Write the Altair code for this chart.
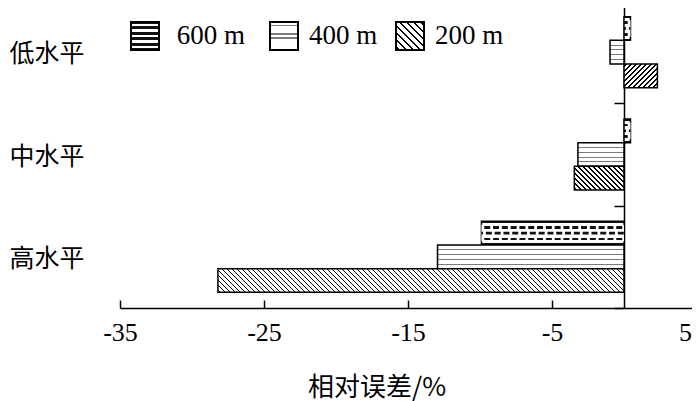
import json
import altair as alt

# ---------------- data ----------------
categories = ["低水平", "中水平", "高水平"]
series = ["600 m", "400 m", "200 m"]
values_600 = [0.45, 0.45, -9.9]
values_400 = [-0.97, -3.2, -12.95]
values_200 = [2.32, -3.45, -28.2]
x_ticks = [-35, -25, -15, -5, 5]
x_title = "相对误差/%"

# ---------------- layout / style ----------------
W, H = 576, 307
XMIN, XMAX = -35, 5
PX = W / (XMAX - XMIN)
ZERO_PX = (0 - XMIN) * PX
PAD_OUT = 0.66
BAND = H / len(categories)
BAR_H = BAND / (len(series) + 2 * PAD_OUT)
LEG = 28
WHITE = "#ffffff"
CJK = "Noto Sans CJK SC"
SERIF = "Liberation Serif"
NB = "\u00a0"
ZW = "\u200b"   # keeps edge spaces from being trimmed


def stops(intervals, on):
    out = [{"offset": 0, "color": WHITE}]
    for a, b in intervals:
        a = round(min(max(a, 0.0), 1.0), 5)
        b = round(min(max(b, 0.0), 1.0), 5)
        out += [{"offset": a, "color": WHITE}, {"offset": a, "color": on},
                {"offset": b, "color": on}, {"offset": b, "color": WHITE}]
    out.append({"offset": 1, "color": WHITE})
    return out


def hlines(h, spacing, lw, color):
    iv = []
    p = spacing
    while p < h - 0.5:
        iv.append(((p - lw / 2) / h, (p + lw / 2) / h))
        p += spacing
    return {"gradient": "linear", "x1": 0, "y1": 0, "x2": 0, "y2": 1, "stops": stops(iv, color)}


def rows_grad(h, centers, lw, color, edge):
    iv = [(0, edge / h)]
    for c in centers:
        iv.append((c - lw / 2 / h, c + lw / 2 / h))
    iv.append((1 - edge / h, 1))
    return {"gradient": "linear", "x1": 0, "y1": 0, "x2": 0, "y2": 1, "stops": stops(iv, color)}


def diag(w, h, up, period, lw, color="#000000"):
    w = max(w, 0.5)
    S = w + h
    alpha = (w + h) / (w * w + h * h)
    if up:   # "///"
        x1, y1, x2, y2 = 0, 0, alpha * w, alpha * h
    else:    # "\\\"
        x1, y1, x2, y2 = 0, 1, alpha * w, 1 - alpha * h
    half = lw * 0.7071
    iv = []
    k = 0
    while k * period < S:
        c = k * period + period / 2
        iv.append(((c - half) / S, (c + half) / S))
        k += 1
    return {"gradient": "linear", "x1": round(x1, 5), "y1": round(y1, 5),
            "x2": round(x2, 5), "y2": round(y2, 5), "stops": stops(iv, color)}


def bar_grad(s, v):
    if s == series[0]:
        return rows_grad(BAR_H, [0.25, 0.75], 2.6, "#111111", 1.8)
    if s == series[1]:
        return hlines(BAR_H, 4.8, 1.0, "#7a7a7a")
    return diag(abs(v) * PX, BAR_H, v >= 0, 5.0, 1.2)


legend_grads = {
    series[0]: rows_grad(LEG, [0.2, 0.4, 0.6, 0.8], 2.6, "#111111", 2.0),
    series[1]: hlines(LEG, 4.0, 1.0, "#7a7a7a"),
    series[2]: diag(LEG, LEG, False, 7.0, 1.2),
}
fill_expr = json.dumps(legend_grads[series[-1]])
for s in reversed(series[:-1]):
    fill_expr = f"datum.value === '{s}' ? {json.dumps(legend_grads[s])} : ({fill_expr})"

rows = []
for ci, c in enumerate(categories):
    for s, vals in zip(series, [values_600, values_400, values_200]):
        v = vals[ci]
        rows.append({"category": c, "series": s, "value": v, "grad": bar_grad(s, v)})


def build(use_cond_offset):
    base = alt.Chart(alt.Data(values=rows))
    x_axis_kw = dict(
        values=x_ticks, grid=False, labelFlush=False,
        domainColor="black", domainWidth=1.5,
        tickColor="black", tickWidth=1.5, tickSize={"expr": "-8"},
        labelFont=SERIF, labelFontSize=26,
        labelColor="black", labelPadding=19,
        titleFont=CJK, titleFontSize=26, titleFontWeight="normal", titleColor="black",
        titleX=256.5, titleY=79, titleAlign="center", titleBaseline="middle",
    )
    if use_cond_offset:
        x_axis_kw["labelExpr"] = "datum.value + ''"
        x_axis_kw["labelOffset"] = {"condition": {"test": f"datum.value === {XMAX}", "value": -11}, "value": 0}
    else:
        x_axis_kw["labelExpr"] = f"datum.value === {XMAX} ? datum.value + '{NB * 4}{ZW}' : datum.value + ''"

    x_enc = alt.X(
        "value:Q",
        scale=alt.Scale(domain=[XMIN, XMAX], nice=False),
        title=x_title,
        axis=alt.Axis(**x_axis_kw),
    )
    y_enc = alt.Y(
        "category:N",
        scale=alt.Scale(domain=categories, paddingInner=0, paddingOuter=0),
        title=None,
        axis=alt.Axis(
            orient="left", offset=-ZERO_PX, grid=False,
            domainColor="black", domainWidth=1.5,
            tickColor="black", tickWidth=1.5, tickSize=10, tickBand="extent",
            labelFont=CJK, labelFontSize=25, labelColor="black",
            labelPadding=530, labelOffset=1.5,
        ),
    )
    yoff_enc = alt.YOffset("series:N", scale=alt.Scale(domain=series, paddingInner=0, paddingOuter=PAD_OUT))

    bars = base.mark_bar(strokeWidth=1.5).encode(
        x=x_enc, y=y_enc, yOffset=yoff_enc,
        fill=alt.Fill("grad:N", scale=None),
        stroke=alt.Stroke(
            "series:N",
            scale=alt.Scale(domain=series, range=["#000000"] * len(series)),
            legend=alt.Legend(
                title=None, orient="none", legendX=10, legendY=20,
                direction="horizontal", columns=3,
                symbolType="square", symbolSize=LEG * LEG,
                symbolStrokeColor="black", symbolStrokeWidth=2,
                symbolFillColor={"expr": fill_expr},
                labelFont=SERIF, labelFontSize=27, labelColor="black",
                labelOffset=10, columnPadding=14, padding=0, labelLimit=0,
                labelExpr=(f"(datum.label === '{series[0]}' || datum.value === '{series[0]}')"
                           f" ? '{ZW}{NB}' + datum.label + '{NB}{ZW}' : datum.label"),
            ),
        ),
    )

    cut = base.transform_filter(alt.datum.series == series[0]).mark_rule(
        color="white", strokeWidth=0.7 * BAR_H, strokeDash=[2.8, 6]
    ).encode(x=x_enc, x2=alt.datum(0), y=y_enc, yOffset=yoff_enc)

    mid = base.transform_filter(alt.datum.series == series[0]).mark_rule(
        color="#111111", strokeWidth=2.6, strokeDash=[6, 2.8], strokeDashOffset=4.4
    ).encode(x=x_enc, x2=alt.datum(0), y=y_enc, yOffset=yoff_enc)

    return alt.layer(bars, cut, mid).properties(
        width=W, height=H,
        padding={"left": 112, "top": -7, "right": -4, "bottom": 93},
        autosize=alt.AutoSizeParams(type="none"),
        background="white",
    ).configure_view(stroke=None)


try:
    chart = build(True)
    chart.to_dict()
except Exception:
    chart = build(False)

chart.save("out.html", embed_options={"renderer": "svg", "actions": False})
